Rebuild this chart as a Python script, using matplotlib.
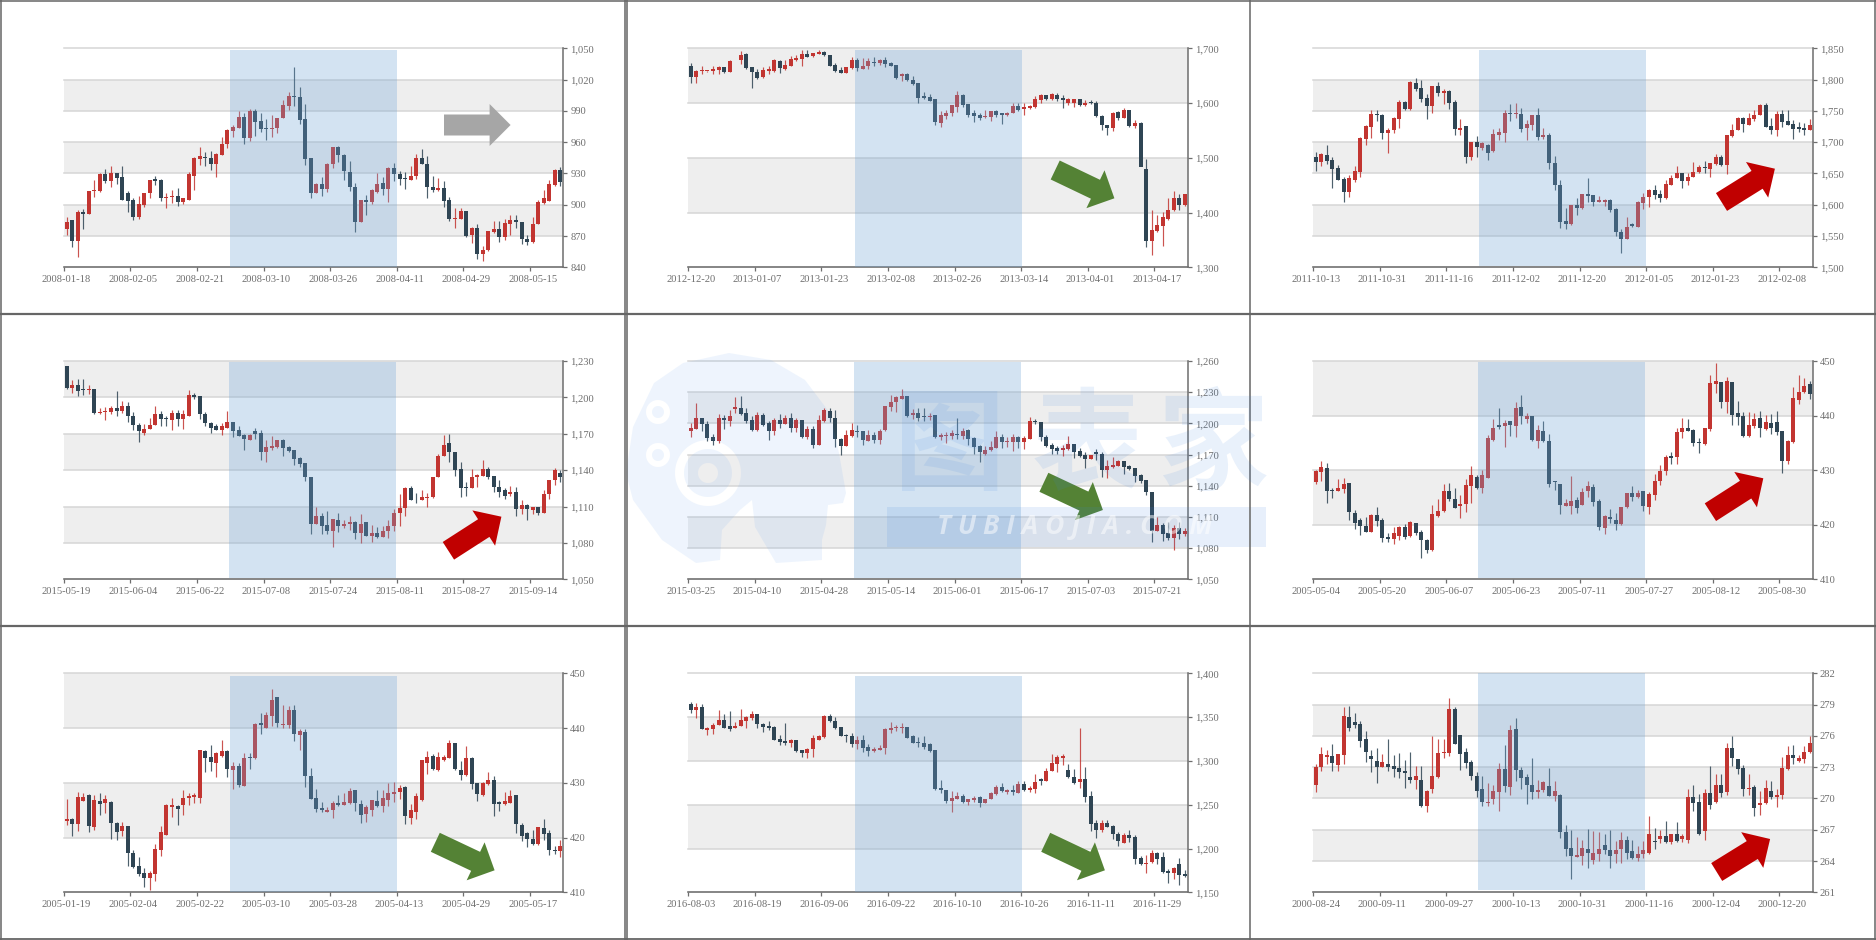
#!/usr/bin/env python3
import numpy as np
import matplotlib
matplotlib.use('Agg')
from matplotlib import pyplot as plt
from matplotlib.patches import Rectangle, FancyArrow, PathPatch
from matplotlib.path import Path

W, H = 1876, 940

# 2008 gold
p1_open = [877,885,865,893,891,913,913,929,923,930,
           927,911,905,888,900,911,925,924,906,907,
           908,903,905,928,944,946,945,939,948,958,
           971,974,984,964,990,980,974,973,974,983,
           995,1004,1003,982,945,911,920,915,939,955,
           948,931,917,883,905,903,912,921,915,935,
           929,926,924,928,945,939,917,914,916,905,
           886,886,894,871,878,853,857,874,877,869,
           882,885,883,867,864,882,902,904,919,933]
p1_close = [883,865,893,891,913,914,929,923,930,926,
            905,904,888,901,911,924,923,906,907,908,
            903,906,929,945,947,945,939,949,958,972,
            975,984,964,990,979,973,973,974,983,996,
            1004,1003,981,944,911,920,915,939,955,948,
            932,917,883,905,903,914,920,915,935,929,
            925,925,928,945,939,917,914,916,904,886,
            887,894,870,878,853,857,875,877,869,882,
            885,883,867,864,882,903,906,920,933,922]
p1_low = [871,859,850,877,891,907,912,921,917,920,
          905,893,885,886,898,906,919,904,897,902,
          899,901,905,914,938,937,933,927,948,954,
          965,974,958,961,966,970,962,965,969,983,
          991,995,977,938,906,911,908,912,935,941,
          924,913,874,883,890,901,911,909,903,923,
          919,915,924,925,939,906,912,913,898,884,
          878,886,869,863,848,846,856,873,864,866,
          871,878,862,861,863,882,901,904,918,918]
p1_high = [888,885,895,896,913,924,930,934,937,930,
           937,913,906,908,911,924,928,925,911,914,
           916,906,931,946,955,951,952,950,965,973,
           976,990,988,992,992,988,982,986,983,1000,
           1008,1032,1013,997,945,921,927,940,955,956,
           949,942,921,905,909,915,930,927,936,940,
           932,931,937,949,953,947,928,926,923,907,
           897,897,894,879,882,860,875,884,884,886,
           890,890,883,871,888,905,914,924,934,936]
p1_dates = ['2008-01-18','2008-02-05','2008-02-21','2008-03-10','2008-03-26','2008-04-11','2008-04-29','2008-05-15']

# 2013 gold
p2_open = [1668,1648,1658,1658,1659,1660,1665,1656,1676,1679,
           1689,1665,1657,1647,1658,1658,1677,1662,1668,1679,
           1681,1690,1686,1690,1694,1687,1669,1660,1655,1664,
           1679,1663,1668,1675,1673,1679,1673,1669,1650,1653,
           1643,1636,1612,1611,1607,1564,1576,1581,1593,1615,
           1598,1581,1578,1574,1575,1585,1581,1578,1582,1594,
           1589,1591,1592,1605,1614,1607,1615,1610,1600,1600,
           1607,1596,1602,1601,1577,1559,1555,1583,1573,1587,
           1558,1563,1480,1348,1367,1376,1389,1404,1427,1413]
p2_close = [1648,1659,1659,1659,1662,1665,1656,1676,1677,1688,
            1664,1657,1646,1660,1662,1678,1664,1669,1681,1682,
            1689,1685,1691,1694,1687,1668,1659,1655,1665,1679,
            1664,1668,1676,1673,1679,1672,1668,1646,1653,1642,
            1635,1610,1609,1604,1565,1578,1582,1596,1615,1596,
            1578,1576,1573,1576,1585,1578,1579,1582,1594,1587,
            1592,1594,1607,1614,1607,1616,1608,1606,1607,1607,
            1596,1600,1600,1576,1559,1555,1582,1573,1587,1558,
            1563,1483,1348,1368,1377,1392,1404,1427,1413,1433]
p2_low = [1637,1637,1653,1657,1653,1653,1655,1656,1676,1671,
          1663,1628,1644,1646,1653,1656,1654,1661,1667,1676,
          1668,1684,1685,1689,1686,1667,1657,1654,1654,1662,
          1659,1662,1662,1668,1669,1665,1667,1644,1641,1641,
          1633,1600,1608,1603,1560,1556,1571,1576,1584,1593,
          1575,1566,1569,1573,1568,1575,1562,1576,1581,1585,
          1578,1589,1591,1600,1606,1606,1604,1591,1596,1592,
          1595,1595,1599,1575,1551,1541,1549,1569,1572,1557,
          1554,1561,1337,1322,1365,1339,1387,1403,1404,1412]
p2_high = [1673,1660,1667,1659,1668,1667,1665,1679,1677,1695,
           1691,1665,1663,1665,1667,1680,1679,1678,1686,1687,
           1697,1697,1692,1696,1695,1688,1673,1665,1665,1685,
           1682,1682,1683,1685,1680,1684,1675,1669,1654,1654,
           1650,1637,1620,1616,1608,1585,1587,1597,1622,1616,
           1599,1587,1581,1587,1586,1587,1582,1584,1600,1600,
           1600,1597,1612,1616,1615,1618,1618,1614,1609,1608,
           1608,1606,1606,1604,1578,1560,1583,1585,1591,1588,
           1569,1565,1497,1404,1395,1401,1426,1439,1434,1433]
p2_dates = ['2012-12-20','2013-01-07','2013-01-23','2013-02-08','2013-02-26','2013-03-14','2013-04-01','2013-04-17']

# 2011
p3_open = [1677,1668,1680,1671,1658,1641,1620,1640,1653,1705,
           1724,1745,1743,1714,1719,1737,1764,1753,1795,1787,
           1770,1757,1789,1779,1781,1764,1720,1726,1677,1700,
           1691,1696,1686,1712,1715,1747,1745,1745,1722,1728,
           1743,1708,1712,1667,1632,1574,1569,1599,1594,1617,
           1616,1605,1605,1608,1593,1557,1545,1570,1564,1603,
           1612,1623,1617,1610,1632,1642,1651,1638,1644,1652,
           1660,1657,1665,1677,1664,1710,1720,1738,1728,1737,
           1743,1760,1726,1719,1745,1734,1729,1725,1722,1720]
p3_close = [1668,1681,1670,1657,1640,1620,1642,1654,1706,1726,
            1745,1743,1714,1720,1738,1764,1753,1796,1785,1769,
            1757,1789,1779,1781,1762,1721,1723,1677,1700,1692,
            1698,1683,1713,1716,1747,1745,1747,1721,1729,1743,
            1708,1712,1666,1631,1573,1570,1599,1594,1617,1614,
            1605,1607,1608,1591,1556,1545,1565,1566,1605,1613,
            1623,1616,1611,1633,1642,1650,1638,1644,1653,1660,
            1658,1666,1677,1664,1711,1720,1739,1729,1738,1744,
            1760,1725,1719,1745,1732,1728,1721,1721,1720,1728]
p3_low = [1654,1662,1665,1627,1639,1604,1612,1636,1644,1695,
          1707,1734,1705,1682,1714,1723,1752,1752,1782,1764,
          1737,1747,1773,1761,1753,1711,1711,1667,1672,1677,
          1688,1672,1685,1703,1701,1734,1739,1716,1703,1720,
          1704,1705,1657,1623,1563,1561,1568,1583,1593,1605,
          1598,1605,1598,1588,1550,1523,1545,1565,1564,1593,
          1597,1609,1605,1609,1631,1642,1626,1631,1644,1650,
          1650,1645,1664,1662,1649,1708,1719,1716,1727,1734,
          1743,1724,1713,1710,1724,1727,1705,1716,1712,1719]
p3_high = [1684,1682,1695,1677,1664,1645,1648,1662,1708,1727,
           1751,1752,1745,1723,1741,1768,1765,1798,1803,1800,
           1777,1790,1796,1785,1784,1767,1737,1726,1701,1710,
           1701,1697,1721,1722,1751,1761,1762,1754,1735,1743,
           1755,1723,1715,1678,1639,1595,1600,1610,1617,1643,
           1616,1614,1609,1609,1594,1562,1581,1571,1606,1619,
           1625,1631,1624,1640,1647,1662,1651,1651,1668,1663,
           1670,1667,1681,1680,1712,1729,1740,1740,1747,1751,
           1761,1763,1738,1750,1752,1752,1735,1732,1730,1737]
p3_dates = ['2011-10-13','2011-10-31','2011-11-16','2011-12-02','2011-12-20','2012-01-05','2012-01-23','2012-02-08']

# 2015 (a)
p4_open = [1226,1208,1210,1207,1206,1207,1187,1188,1188,1191,
           1189,1193,1185,1177,1171,1174,1177,1186,1182.5,1181,
           1187,1182,1185,1202,1201,1186,1179,1176,1173,1175,
           1180,1173,1169,1165,1172,1171,1155,1158,1159,1165,
           1159,1157,1150,1146,1134,1096,1102,1095,1090,1099,
           1094,1096,1097,1088,1097,1086,1088,1085,1090,1094,
           1105,1109,1125,1115.5,1115,1117,1118,1134,1152,1162,
           1155,1141,1126,1125,1134,1135,1141,1135,1126,1124,
           1120,1122,1108,1111,1107,1110,1105,1120,1132,1138]
p4_close = [1208,1210,1205,1206,1207,1187,1188,1189,1191,1189,
            1193,1185,1177,1172,1174,1177,1186,1182,1182,1187,
            1182,1186,1202,1200,1186,1179,1175,1173,1176,1180,
            1172,1168,1166,1169,1170,1155,1159,1160,1165,1158,
            1156,1149,1145,1134,1096,1102,1094,1090,1100,1094,
            1096,1097,1088,1096,1086,1088,1085,1090,1094,1105,
            1109,1125,1115,1115,1118,1118,1134,1152,1161,1155,
            1140,1125,1125,1134,1136,1141,1134,1126,1122,1119,
            1122,1108,1111,1108,1110,1105,1120,1132,1140,1134]
p4_low = [1207,1204,1201,1202,1203,1186,1186,1181,1186,1185,
          1187,1180,1173,1163,1169,1174,1177,1176,1176,1173,
          1176,1174,1185,1199,1182,1176,1171,1173,1169,1175,
          1167,1168,1157,1165,1166,1148,1147,1157,1158,1152,
          1155,1144,1143,1131,1087,1096,1087,1087,1077,1089,
          1092,1091,1083,1080,1086,1081,1084,1085,1084,1090,
          1094,1102,1115,1113,1115,1110,1117,1134,1152,1147,
          1135,1118,1119,1125,1126,1135,1133,1122,1118,1116,
          1119,1102,1104,1099,1104,1103,1105,1116,1128,1130]
p4_high = [1226,1214,1215,1215,1210,1207,1191,1192,1193,1205,
           1197,1196,1188,1179,1178,1183,1193,1189,1185,1190,
           1190,1190,1206,1204,1201,1188,1180,1178,1179,1189,
           1180,1176,1170,1170,1175,1173,1165,1168,1165,1166,
           1160,1157,1151,1146,1134,1110,1105,1106,1100,1105,
           1099,1102,1098,1104,1097,1095,1093,1094,1099,1108,
           1120,1126,1127,1121,1124,1121,1134,1153,1169,1170,
           1155,1147,1130,1141,1137,1148,1143,1135,1132,1125,
           1127,1126,1115,1112,1110,1110,1124,1132,1142,1140]
p4_dates = ['2015-05-19','2015-06-04','2015-06-22','2015-07-08','2015-07-24','2015-08-11','2015-08-27','2015-09-14']

# 2015 (b)
p5_open = [1193,1195,1205,1199,1187,1183,1205,1202,1214,1215,
           1210,1203,1194,1208,1200,1193,1203,1199,1205,1196,
           1203,1187,1195,1179,1202,1212,1205,1185,1178,1188,
           1193,1193,1183,1189,1184,1194,1216,1221,1223,1226,
           1208,1210,1207,1206,1208,1187,1188,1188,1190,1188,
           1194,1186,1178,1171,1174,1176,1187,1182,1182,1187,
           1182,1185,1202,1201,1187,1179,1176,1174,1175,1180,
           1173,1170,1166,1172,1171,1155,1158,1159,1164,1159,
           1157,1150,1146,1134,1096,1102,1095,1090,1099,1094]
p5_close = [1196,1205,1199,1186,1183,1205,1203,1207,1216,1209,
            1202,1194,1208,1198,1193,1203,1199,1205,1196,1203,
            1187,1195,1179,1203,1213,1205,1185,1178,1189,1194,
            1192,1184,1189,1184,1193,1217,1221,1225,1226,1207,
            1210,1205,1206,1207,1187,1189,1189,1191,1189,1193,
            1185,1177,1172,1174,1177,1187,1182,1182,1187,1182,
            1186,1202,1201,1187,1178,1175,1173,1176,1180,1172,
            1169,1166,1170,1171,1155,1159,1160,1164,1158,1156,
            1149,1145,1134,1096,1102,1094,1090,1099,1094,1096]
p5_low = [1187,1195,1193,1183,1179,1181,1195,1197,1210,1208,
          1200,1193,1193,1197,1184,1189,1196,1199,1192,1192,
          1186,1185,1176,1179,1201,1201,1177,1170,1178,1187,
          1187,1179,1183,1181,1180,1193,1212,1211,1223,1206,
          1204,1202,1202,1203,1186,1184,1181,1185,1185,1185,
          1179,1171,1163,1170,1173,1176,1176,1177,1173,1176,
          1175,1185,1199,1183,1177,1171,1171,1169,1174,1167,
          1168,1157,1166,1165,1148,1147,1157,1159,1151,1155,
          1144,1143,1131,1086,1096,1087,1088,1078,1089,1092]
p5_high = [1200,1220,1205,1202,1190,1209,1208,1213,1225,1226,
           1215,1207,1211,1210,1202,1205,1209,1208,1210,1205,
           1203,1197,1197,1208,1215,1215,1213,1186,1194,1200,
           1198,1193,1194,1192,1195,1217,1227,1226,1233,1226,
           1214,1215,1215,1210,1208,1191,1192,1194,1205,1196,
           1195,1187,1179,1178,1183,1193,1190,1187,1190,1188,
           1188,1206,1204,1201,1189,1181,1178,1179,1188,1180,
           1176,1172,1170,1175,1172,1165,1168,1165,1164,1160,
           1157,1151,1146,1134,1110,1104,1105,1102,1105,1099]
p5_dates = ['2015-03-25','2015-04-10','2015-04-28','2015-05-14','2015-06-01','2015-06-17','2015-07-03','2015-07-21']

# 2005 platinum (a)
p6_open = [427.8,429.7,430.4,426.4,426.2,426.5,427.6,422.2,420.9,419.8,
           418.7,421.8,420.9,417.8,417.4,417.9,419.6,417.9,420.3,418.7,
           417.2,415.4,421.6,422.5,426.2,424.8,423.5,423.8,427.1,428.8,
           426.8,428.6,435.5,438.3,438,439,438.1,441.6,439.4,440,
           435.3,437.2,435.4,428.1,427.5,423.5,423.5,424.6,423.7,426.2,
           427,424.3,419.4,421.4,420.9,420.1,423.2,425.9,425,426.1,
           423.3,425.5,428,429.8,432.6,432.4,436.9,437.7,437.3,435.2,
           434.7,437.5,445.8,446.2,442.5,446.2,440.4,439.9,436.3,438,
           439.6,437.5,438.6,438.8,437.1,431.6,435.1,442.9,444.3,445.8]
p6_close = [429.9,430.5,426.2,426.1,426.7,427.5,422.3,420.3,419.8,418.7,
            421.8,420.6,417.6,417.4,418.4,419.6,417.7,420.5,418.4,417.2,
            415.4,421.9,422.5,426.1,424.7,423.1,423.8,427.2,429.1,426.7,
            429.1,435.8,437.7,437.9,438.6,438.2,441.4,440,439.9,435.5,
            437.4,435.4,427.4,427.9,423.6,424,424.3,423.1,426,427.1,
            424.1,419.5,421.6,421.1,420.1,423.3,425.8,425,425.9,423.4,
            425.6,428.1,429.9,432.4,432.3,436.9,437.7,437.2,435,434.9,
            437.7,446,446.4,442.4,446.3,440.1,439.7,436.3,438.3,439.3,
            437.7,438.8,437.7,436.9,431.6,435.3,443.3,444.4,445.5,444]
p6_low = [427.5,428,424,424.9,426.1,425.8,420.8,419.3,418.2,418.6,
          418.6,419.8,416.8,416.8,416.4,417.2,417.4,417.8,418.2,413.9,
          414.8,415.1,421.5,422.4,424.4,423,421.2,422.3,424,426.6,
          425.9,428.5,435.4,437.5,434.2,436.3,436,438.5,438.7,435.3,
          434.1,435.2,426.9,426.4,421.9,423.4,422,422.2,423.6,425.1,
          423.5,419.1,418.3,420.4,419,419.9,423.1,424.3,424.9,422.5,
          422,424.6,427.3,429.2,431.1,431.1,435.8,437.1,434.5,433.2,
          434.6,437.2,444.1,441.4,440.5,438.3,438.3,436.1,436,437.8,
          436,437.4,436.6,436.5,429.5,431.1,435,442.2,444.2,443]
p6_high = [430,431.7,431.3,426.7,428.3,428.6,427.6,422.7,421.2,421.4,
           422,423.3,421.2,418.5,419.5,419.8,420.1,420.6,420.4,419,
           417.3,423.7,424.8,427.4,427.6,426.7,425.5,428.3,430.7,429.1,
           430,436.4,439.3,441.3,439.2,439,442.5,443.8,440.4,440,
           438.3,439,436.7,428.1,427.5,424.8,429,425,426.7,428,
           427.5,424.7,421.7,422.9,422.2,423.3,425.8,427.1,426.4,426.1,
           426,429.3,430.9,432.7,433.3,437.7,439.5,439.3,437.5,435.8,
           437.8,447.5,449.7,446.2,447,446.2,442.6,440.7,440.7,440.5,
           440.8,440.1,440.3,440.8,437.1,435.5,445.3,447.4,446.9,446.3]
p6_dates = ['2005-05-04','2005-05-20','2005-06-07','2005-06-23','2005-07-11','2005-07-27','2005-08-12','2005-08-30']

# 2005 platinum (b)
p7_open = [423,423.4,422.5,426.7,427.8,422,426.7,426.4,426.5,422.6,
           421.2,422.1,417.2,414.8,413.5,412.7,413.3,417.7,420.5,425.6,
           425.8,425.9,427.3,427.4,427.2,435.8,434.7,433.7,434.9,435.8,
           432.3,433,429.5,434.8,434.5,441,440.1,442.2,445.7,440.5,
           440.5,443.3,438.7,439.3,431.3,427.2,425.4,424.7,425,426.3,
           426,426.3,428.6,426.2,424.3,425.1,426.7,425.8,426.9,428,
           428.4,429.2,423.6,424.7,426.8,433.7,434.9,432.3,434.1,434.6,
           437.3,432.3,431.4,434.6,429.9,427.7,429.7,430.5,426.5,426.1,
           426.4,427.7,422.3,420.9,419.8,418.8,421.8,420.8,417.8,417.5]
p7_close = [423.3,422.4,427.4,427.4,422.2,426.9,426.2,427.1,422.6,421.1,
            422.1,417.2,414.7,413.4,412.7,413.5,417.9,421.1,425.9,425.9,
            425.2,427.3,427.6,427.7,436,434.6,433.8,435.4,435.8,432.6,
            433,429.6,434.5,434.6,440.7,440.6,442.3,445.1,441,440.8,
            443.3,438.9,439.5,431.2,427.1,425.3,425,425,426.3,426,
            426.5,428.5,426.3,424.2,425.5,426.9,425.8,427.3,428.1,428.3,
            429,423.9,425,427.5,434.1,434.7,432.5,434.7,434.8,437.2,
            432.5,431.4,434.6,429.8,427.9,429.9,430.5,426.2,426.1,426.7,
            427.5,422.4,420.3,419.7,418.8,421.9,420.6,417.7,417.6,418.5]
p7_low = [422.3,420.2,421.2,426.6,421.1,421.4,424.2,424.5,419.8,419.6,
          420.2,414.8,414.4,412.9,411,410.4,412.1,416.6,420.4,423.8,
          422.3,424.2,426,426.3,426.3,432,432.1,431.1,434.8,431,
          428.9,429.2,429.4,432.5,434.4,439,440,440.3,440.2,440,
          440,437.7,436,429.2,427,424.6,424.6,424.6,423.6,425.8,
          425.9,426.2,424.8,422.7,422.8,424,425.6,424.7,425.8,426.5,
          427,422.5,422.5,423.3,426.7,431.6,432.3,432.2,434,434.5,
          432.3,430.6,431.3,428.9,426.6,427.5,429.6,423.9,424.9,426,
          426.3,420.9,419.3,418.3,418.7,418.7,419.6,416.8,417,416.4]
p7_high = [427,423.5,428.4,428.1,427.9,427.8,428.2,427.8,426.6,422.8,
           422.8,422.2,417.7,416.4,414.4,413.8,418.8,422.2,426.1,427.3,
           425.9,428.7,428.1,428.1,436,436,436.9,435.7,437.9,436,
           433.8,433.7,435.4,435.5,441,442.7,442.9,447.1,445.7,444.3,
           444,444.2,439.8,439.8,432.7,428.8,426.5,425.6,426.7,427.8,
           428.1,429.1,428.7,426.9,426,426.9,428.6,428.7,429.9,430.2,
           429.6,429.4,426.1,428.1,434.2,435.8,435.2,435.6,435.1,437.8,
           437.3,433.9,436.8,434.7,430,430.2,431.9,431.2,426.7,428.3,
           428.7,427.8,422.7,421,421.4,422,423.3,421.3,418.5,419.5]
p7_dates = ['2005-01-19','2005-02-04','2005-02-22','2005-03-10','2005-03-28','2005-04-13','2005-04-29','2005-05-17']

# 2016 gold
p8_open = [1365,1358,1361.5,1335,1336,1341,1347,1339.5,1338,1340,
           1346,1349,1353,1342,1340,1339,1325,1323,1321,1324,
           1312,1309,1314,1324,1327,1351,1346,1339,1329,1328,
           1319,1324,1316,1311,1313,1315,1335,1337,1337,1339,
           1328,1322,1321,1319,1312,1269,1267,1254,1257,1260,
           1253,1255,1259,1252,1256,1262,1270,1264,1267,1263,
           1274,1267,1268,1279,1277,1288,1297,1303,1290,1282,
           1276,1279,1260,1229,1221,1229.5,1226,1217,1206,1215,
           1213,1189,1182,1185,1195,1190,1174,1172,1182,1171]
p8_close = [1358.5,1362,1336,1337,1341,1347,1338,1336,1340,1347,
            1350,1354,1342,1339,1337,1324,1322,1321,1324,1311,
            1309,1314,1326,1328,1351,1345,1338,1328,1328,1319,
            1324,1315,1311,1314,1315,1336,1338,1339,1339,1326,
            1321,1321,1316,1311,1268,1267,1254,1258,1260,1253,
            1256,1258,1252,1256,1263,1270,1266,1267,1264,1274,
            1267,1269,1276,1277,1289,1298,1304,1306,1282,1275,
            1279,1259,1228,1221,1229,1225,1216,1208,1215,1212,
            1188,1182,1184,1195,1188,1173,1172,1178,1170,1169]
p8_low = [1355,1349,1336,1330,1331,1341,1337,1334,1337,1340,
          1338,1347,1338,1333,1335,1324,1318,1318,1316,1310,
          1304,1303,1305,1324,1326,1344,1336,1328,1322,1316,
          1314,1310,1306,1310,1312,1308,1332,1334,1332,1326,
          1320,1316,1314,1310,1267,1263,1252,1242,1256,1252,
          1250,1253,1247,1252,1256,1261,1265,1262,1261,1263,
          1266,1265,1263,1272,1277,1288,1287,1295,1280,1274,
          1269,1253,1220,1212,1219,1224,1211,1203,1206,1207,
          1182,1181,1172,1184,1182,1172,1161,1165,1158,1167]
p8_high = [1367,1366,1365,1339,1343,1358,1354,1357,1344,1359,
           1351,1357,1353,1343,1345,1340,1330,1343,1325,1324,
           1313,1315,1330,1330,1352,1353,1350,1339,1331,1332,
           1328,1329,1319,1316,1318,1337,1344,1341,1343,1339,
           1329,1327,1328,1320,1312,1278,1267,1266,1265,1262,
           1257,1260,1260,1257,1265,1273,1275,1268,1272,1277,
           1277,1271,1285,1281,1292,1308,1307,1308,1296,1291,
           1338,1293,1266,1233,1232,1233,1227,1219,1218,1221,
           1215,1191,1193,1198,1196,1196,1177,1179,1189,1175]
p8_dates = ['2016-08-03','2016-08-19','2016-09-06','2016-09-22','2016-10-10','2016-10-26','2016-11-11','2016-11-29']

# 2000 gold
p9_open = [271.3,273,274,274.1,273.2,274.2,277.8,277.3,277.1,275.7,
           274.1,273.6,273,273.3,273.1,272.9,272.6,272.1,271.8,271.8,
           269.3,270.9,272.1,274.4,274.4,278.6,276.1,274.5,273.5,272.2,
           270.9,269.6,269.9,270.6,272.8,271.1,276.7,272.7,272.1,271.3,
           270.6,270.8,271.2,270.2,270.3,266.8,265.2,264.4,264.5,265.2,
           264.1,264.7,265.5,265.1,264.7,265.2,266,265,264.3,264.7,
           264.8,265.9,266.1,266.4,265.8,266.6,266.1,266,270.1,269.7,
           266.9,270.5,269.7,271.3,270.6,274.8,273.8,272.9,270.9,271.1,
           269.4,269.6,270.7,270.1,270.3,272.8,274.2,273.6,273.8,274.5]
p9_close = [273,274.3,274.2,273.4,274.3,277.9,276.8,277,275.5,274.5,
            273.8,273,273.5,273,272.8,272.5,272.4,271.8,272.2,269.3,
            270.7,272.2,274.4,274.5,278.6,275.2,274.3,273.4,272.2,270.7,
            269.7,269.7,270.7,272.8,271.2,276.6,272.7,272,271.3,270.6,
            270.8,271.6,270.2,270.7,266.8,265.2,264.5,264.6,265.2,264.8,
            264.8,265.2,265.1,264.5,265.1,266,264.8,264.3,264.7,265.1,
            266.6,265.8,266.4,265.8,266.6,265.9,266.4,270.1,269.6,266.6,
            270.5,269.4,271.3,270.5,274.8,273.9,272.8,270.9,271,269.1,
            269.6,271,270.1,270.3,272.9,274.2,273.9,273.9,274.5,275.3]
p9_low = [270.6,272.6,273.3,272.6,272.6,273.3,276.5,276.8,274.9,273.5,
          272.5,271.5,273,272.6,272.1,272,271,271.5,270.9,269.2,
          268.7,270.5,272,273.9,274.1,275.2,272.7,272.9,271.8,270.1,
          269.3,269.3,269.5,268.8,270.6,270.3,271.7,270.9,269.5,269.9,
          270,270.6,270.2,269.8,266.2,264.5,262.3,264.4,263.6,263.3,
          263.7,264,264.7,263.3,263.8,263.8,264.2,264.2,264,264.3,
          264.7,265.2,265.7,265.7,265.6,265.8,265.8,265.7,268.8,266.5,
          266,269,269.6,270.1,270.3,273.1,272.3,270.2,270.3,268.3,
          268.4,269.5,269.9,269.2,269.9,272.7,273.3,273.5,273.4,274.4]
p9_high = [273.3,274.9,274.6,275.2,274.3,278.8,278.9,278.2,277.4,276.5,
           274.6,274.8,274.3,275.7,274.2,274.4,273.7,274.5,273.1,273.1,
           270.8,276,275.7,275.7,279.6,278.8,276.1,274.8,273.7,272.5,
           272.2,271.5,271.3,273.4,275.1,277,277.7,273,272.3,273.9,
           271.8,271.7,272.9,271.7,270.4,267.5,267,266.3,266,267.1,
           266.9,266.8,266.6,267,265.9,266.8,266.4,266,265.4,265.9,
           268.3,267.2,267,267.8,266.6,267.7,266.6,270.9,271.3,270.4,
           270.9,273.1,272.3,272.3,275.3,276,273.2,273.2,272.3,271.3,
           270.7,271.8,271.7,270.9,274,275,275.1,274.2,275,276]
p9_dates = ['2000-08-24','2000-09-11','2000-09-27','2000-10-13','2000-10-31','2000-11-16','2000-12-04','2000-12-20']

# ranges of the value axes
p1_ticks = list(range(840, 1051, 30))
p2_ticks = list(range(1300, 1701, 100))
p3_ticks = list(range(1500, 1851, 50))
p4_ticks = list(range(1050, 1231, 30))
p5_ticks = list(range(1050, 1261, 30))
p6_ticks = list(range(410, 451, 10))
p7_ticks = list(range(410, 451, 10))
p8_ticks = list(range(1150, 1401, 50))
p9_ticks = list(range(261, 283, 3))

RED, BLUE = '#c23531', '#2f4554'
TXT = '#6e6e6e'
ARROW_GREY, ARROW_GREEN, ARROW_RED = '#a6a6a6', '#548235', '#c00000'

plt.rcParams['font.family'] = ['Liberation Serif', 'DejaVu Serif']

fig = plt.figure(figsize = (W / 100, H / 100), dpi = 100, facecolor = 'white')

def px_axes(left, top, right, bottom, **kw):
    return fig.add_axes([left / W, 1 - bottom / H, (right - left) / W, (bottom - top) / H], **kw)

def draw_panel(ax, o, c, l, h, ticks, dates):
    o, c, l, h = map(np.array, (o, c, l, h))
    x = np.arange(len(o)) + 0.5
    ax.set_xlim(0, 90)
    ax.set_ylim(ticks[0], ticks[-1])
    ax.set_facecolor('white')

    # alternating split areas, white from the bottom
    for k in range(len(ticks) - 1):
        if k % 2 == 1:
            ax.axhspan(ticks[k], ticks[k + 1], color = '#eeeeee', lw = 0, zorder = 0)
    for t in ticks:
        ax.axhline(t, color = '#d6d6d6', lw = 1.1, zorder = 1, clip_on = False)

    col = np.where(c >= o, RED, BLUE)
    ax.vlines(x, l, h, colors = col, lw = 0.85, zorder = 2, alpha = 0.85)
    ax.bar(x, np.maximum(np.abs(c - o), (ticks[-1] - ticks[0]) * 0.004), bottom = np.minimum(o, c),
           width = 0.72, color = col, lw = 0, zorder = 3)

    for s in ('left', 'top'):
        ax.spines[s].set_visible(False)
    for s in ('right', 'bottom'):
        ax.spines[s].set_color('#6e6e6e')
        ax.spines[s].set_linewidth(1.1)
    ax.yaxis.tick_right()
    ax.set_yticks(ticks)
    ax.set_yticklabels([f'{t:,}' for t in ticks])
    ax.tick_params(axis = 'y', length = 3, width = 0.9, color = '#6e6e6e', labelcolor = TXT, labelsize = 7.6, pad = 2)
    ax.set_xticks(np.arange(0, 90, 12))
    ax.set_xticklabels([])
    ax.set_xticks(np.arange(0, 90, 12) + 0.5, minor = True)
    ax.set_xticklabels(dates, minor = True)
    ax.tick_params(axis = 'x', which = 'major', length = 3, width = 0.9, color = '#6e6e6e')
    ax.tick_params(axis = 'x', which = 'minor', length = 0, labelcolor = TXT, labelsize = 7.6, pad = 5.5)

# pixel boxes: left, top, right, bottom
cols = [(63.8, 563.2), (688, 1187.8), (1313, 1812.8)]
rows = [(48.3, 267.3), (361, 579.3), (673.3, 892.3)]

panels = [
    (p1_open, p1_close, p1_low, p1_high, p1_ticks, p1_dates),
    (p2_open, p2_close, p2_low, p2_high, p2_ticks, p2_dates),
    (p3_open, p3_close, p3_low, p3_high, p3_ticks, p3_dates),
    (p4_open, p4_close, p4_low, p4_high, p4_ticks, p4_dates),
    (p5_open, p5_close, p5_low, p5_high, p5_ticks, p5_dates),
    (p6_open, p6_close, p6_low, p6_high, p6_ticks, p6_dates),
    (p7_open, p7_close, p7_low, p7_high, p7_ticks, p7_dates),
    (p8_open, p8_close, p8_low, p8_high, p8_ticks, p8_dates),
    (p9_open, p9_close, p9_low, p9_high, p9_ticks, p9_dates),
]

for i, p in enumerate(panels):
    left, right = cols[i % 3]
    top, bottom = rows[i // 3]
    draw_panel(px_axes(left, top, right, bottom), *p)

# everything pasted over the charts, in figure pixels
over = fig.add_axes([0, 0, 1, 1], zorder = 10)
over.set_xlim(0, W)
over.set_ylim(H, 0)
over.axis('off')
over.patch.set_alpha(0)

# highlight rectangles (x0, x1, y0, y1)
shades = [(230, 396.6, 50, 267), (855, 1022, 50, 267), (1479, 1645.8, 50, 266),
          (229.2, 395.8, 361.7, 578.3), (854.2, 1020.8, 361.7, 578.3), (1478, 1645, 361.7, 578.3),
          (230, 396.6, 676, 892.3), (855, 1022, 676, 892.3), (1478, 1645, 673.3, 890)]
for x0, x1, y0, y1 in shades:
    over.add_patch(Rectangle((x0, y0), x1 - x0, y1 - y0, fc = '#70a5d7', alpha = 0.3, lw = 0))

# arrows: tail centre, tip, colour
arrows = [((444, 125), (510.6, 125), ARROW_GREY),
          ((1055.2, 170), (1114.4, 198.3), ARROW_GREEN),
          ((1721.5, 202), (1774.9, 168.7), ARROW_RED),
          ((448.4, 550.8), (501.4, 516.7), ARROW_RED),
          ((1043.9, 482.3), (1102.9, 510), ARROW_GREEN),
          ((1710.4, 512.2), (1763.3, 478.3), ARROW_RED),
          ((435.3, 842.3), (494.6, 870.3), ARROW_GREEN),
          ((1045.7, 842.3), (1104.9, 870.3), ARROW_GREEN),
          ((1716.7, 872), (1770.1, 839), ARROW_RED)]
for (x0, y0), (x1, y1), colour in arrows:
    over.add_patch(FancyArrow(x0, y0, x1 - x0, y1 - y0, width = 21, head_width = 42, head_length = 21,
                              length_includes_head = True, fc = colour, ec = 'none', lw = 0))

# panel borders
for x in (1, 624.7, 626.7, 1250, 1875):
    over.plot([x, x], [0, H], color = '#666666', lw = 1.1, solid_capstyle = 'butt')
for y, lw in ((0.5, 1.1), (314, 1.6), (626, 1.6), (939, 1.3)):
    over.plot([0, W], [y, y], color = '#666666', lw = lw, solid_capstyle = 'butt')

# watermark
def ring(cx, cy, r, hole):
    a = np.linspace(0, 2 * np.pi, 60)
    if hole:
        a = a[::-1]
    return np.column_stack([cx + r * np.cos(a), cy + r * np.sin(a)])

head = np.array([(729, 353), (771, 360), (805, 380), (830, 413), (839, 453), (846, 493), (843, 503),
                 (828, 505), (826, 525), (822, 540), (822, 560), (776, 563), (755, 527), (752, 500),
                 (740, 510), (722, 530), (720, 560), (696, 563), (662, 540), (633, 500), (626, 473),
                 (633, 427), (654, 383), (683, 363)], dtype = float)
loops = [head, ring(708, 473, 33, True), ring(708, 473, 24, False), ring(708, 473, 10, True),
         ring(658, 412, 12, True), ring(658, 412, 6, False), ring(658, 455, 12, True), ring(658, 455, 6, False)]
wm_path = Path.make_compound_path(*[Path(np.vstack([v, v[0]]), closed = True) for v in loops])
over.add_patch(PathPatch(wm_path, fc = '#5a9bf0', alpha = 0.10, lw = 0))

for ch, cx in zip(['图', '表', '家'], [950, 1087, 1213]):
    over.text(cx, 449, ch, family = ['Noto Sans CJK SC', 'DejaVu Sans'], weight = 'bold', fontsize = 80,
              color = '#3b82e0', alpha = 0.11, ha = 'center', va = 'center')
over.add_patch(Rectangle((887, 507), 379, 40, fc = '#3b82e0', alpha = 0.12, lw = 0))
over.text(1075, 527, 'T U B I A O J I A . C O M', family = ['Open Sans', 'DejaVu Sans'], style = 'italic', weight = 'bold',
          fontsize = 19, color = 'white', alpha = 0.5, ha = 'center', va = 'center')

plt.savefig('out.png', dpi = 100)
